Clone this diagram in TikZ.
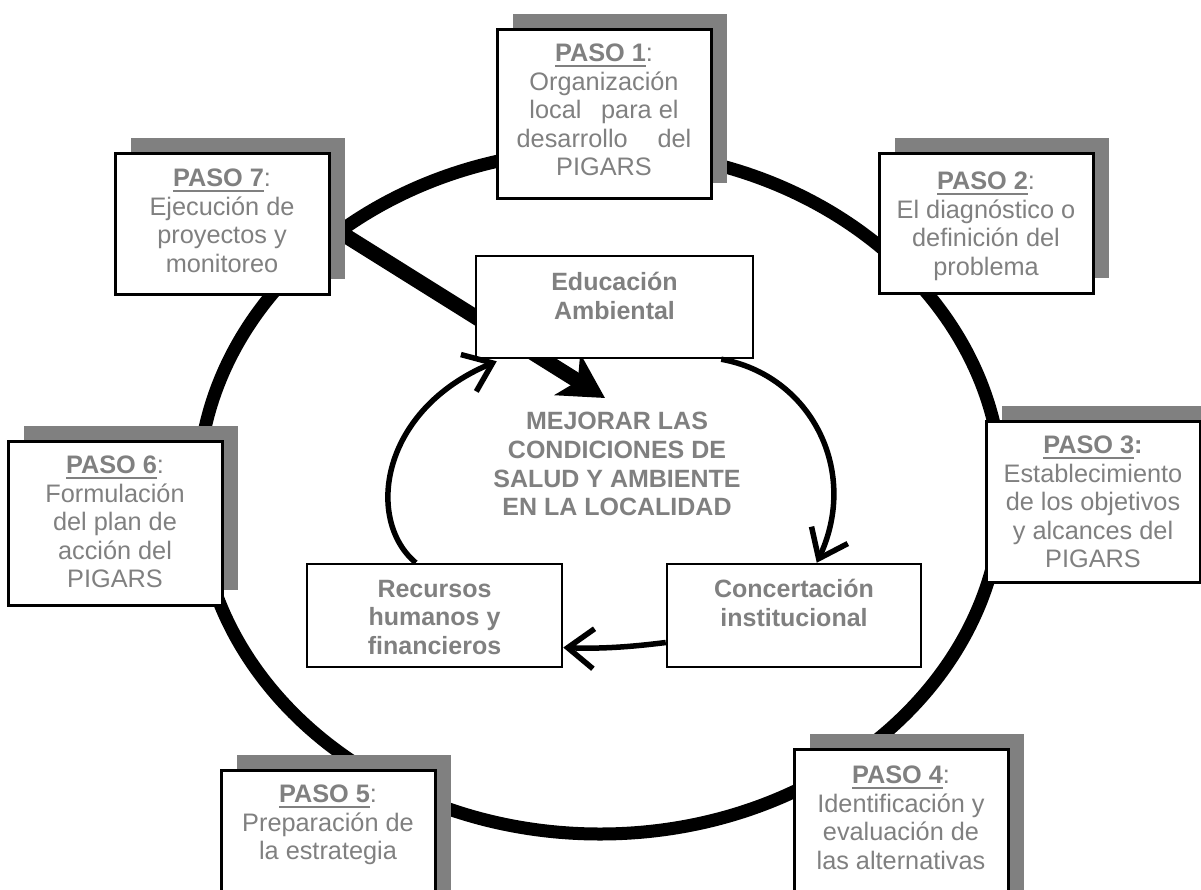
\documentclass[tikz,border=0pt]{standalone}
\usepackage{fontspec}
\setmainfont{Liberation Sans}
\usetikzlibrary{arrows.meta,shadows}
\definecolor{txtgray}{HTML}{808080}
\definecolor{shgray}{HTML}{808080}
\newcommand\pul[1]{\setbox0\hbox{#1}\rlap{\rule[-5pt]{\wd0}{2.2pt}}\box0}
\begin{document}
\begin{tikzpicture}[x=1pt,y=-1pt,
  pasobox/.style={draw=black,line width=3pt,fill=white,minimum width=214pt,inner sep=0pt,
    general shadow={fill=shgray,draw=none,shadow xshift=16pt,shadow yshift=15pt}},
  pasotext/.style={anchor=north,inner sep=0pt,align=center,text=txtgray,
    font=\fontsize{25.3}{28.5}\selectfont},
  innerbox/.style={draw=black,line width=2.5pt,fill=white,inner sep=0pt},
  innertext/.style={anchor=north,inner sep=0pt,align=center,text=txtgray,
    font=\fontsize{25}{28.5}\selectfont\bfseries},
  cyc/.style={line width=5.5pt,-{Straight Barb[length=26pt,width=40pt]}}
]
\useasboundingbox (0,0) rectangle (1201,889);
\clip (0,0) rectangle (1201,889);

% big cycle
\draw[line width=13pt] (600,492) ellipse [x radius=402pt, y radius=342pt];

% thick arrow from step 7 to the centre
\coordinate (s7) at (338,231);
\coordinate (mtip) at (605,398);
\draw[line width=15pt,-{Stealth[length=44pt,width=48pt,inset=12pt]}] (s7) -- (mtip);

% step boxes
\node[pasobox,minimum height=169pt] (p1) at (604,113.5) {};
\node[pasotext] (t1) at (604,44) {\pul{\textbf{PASO 1}}:\\Organización\\local\hspace{0.5em} para el\\desarrollo\hspace{0.9em} del\\PIGARS};

\node[pasobox,minimum height=140pt] (p2) at (986,223) {};
\node[pasotext] (t2) at (986,172) {\pul{\textbf{PASO 2}}:\\El diagnóstico o\\definición del\\problema};

\node[pasobox,minimum height=161pt] (p3) at (1093,501.5) {};
\node[pasotext] (t3) at (1093,436) {\pul{\textbf{PASO 3}}\textbf{:}\\Establecimiento\\de los objetivos\\y alcances del\\PIGARS};

\node[pasobox,minimum height=174pt] (p4) at (901,836) {};
\node[pasotext] (t4) at (901,766) {\pul{\textbf{PASO 4}}:\\Identificación y\\evaluación de\\las alternativas};

\node[pasobox,minimum height=160pt] (p5) at (328,850) {};
\node[pasotext] (t5) at (328,785) {\pul{\textbf{PASO 5}}:\\Preparación de\\la estrategia};

\node[pasobox,minimum height=164pt] (p6) at (115,523) {};
\node[pasotext] (t6) at (115,456) {\pul{\textbf{PASO 6}}:\\Formulación\\del plan de\\acción del\\PIGARS};

\node[pasobox,minimum height=141pt] (p7) at (222,223.5) {};
\node[pasotext] (t7) at (222,169) {\pul{\textbf{PASO 7}}:\\Ejecución de\\proyectos y\\monitoreo};

% inner boxes
\node[innerbox,minimum width=277pt,minimum height=102pt] (edu) at (614.5,307) {};
\node[innertext] (tedu) at (614.5,272) {Educación\\Ambiental};

\node[innerbox,minimum width=254pt,minimum height=103pt] (conc) at (794,615.5) {};
\node[innertext] (tconc) at (794,579) {Concertación\\institucional};

\node[innerbox,minimum width=255pt,minimum height=103pt] (rec) at (434.5,615.5) {};
\node[innertext] (trec) at (434.5,580) {Recursos\\humanos y\\financieros};

% centre text
\node[innertext,font=\fontsize{25}{28.7}\selectfont\bfseries] (goal) at (617,412)
  {MEJORAR LAS\\CONDICIONES DE\\SALUD Y AMBIENTE\\EN LA LOCALIDAD};

% inner cycle
\draw[cyc] ([xshift=-33pt]edu.south east) .. controls (810,375) and (860,470) .. ([xshift=151pt]conc.north west);
\draw[cyc] ([yshift=-27pt]conc.west) .. controls (630,647) and (600,649) .. ([yshift=-32pt]rec.east);
\draw[cyc] ([xshift=110pt]rec.north west) .. controls (365,520) and (380,410) .. ([xshift=22pt,yshift=-2pt]edu.south west);
\end{tikzpicture}
\end{document}
